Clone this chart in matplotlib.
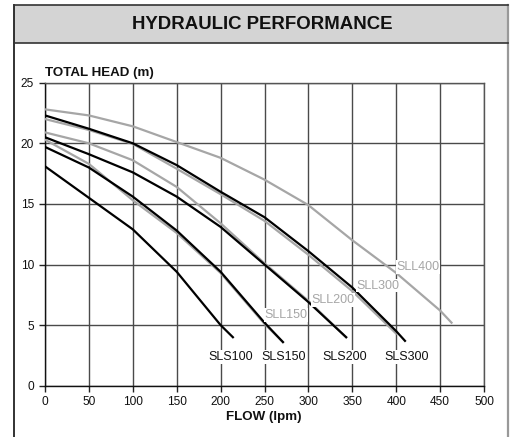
import matplotlib
matplotlib.use("Agg")
import matplotlib.pyplot as plt
from matplotlib.lines import Line2D
from matplotlib.patches import Rectangle

plt.rcParams['font.family'] = ['Liberation Sans', 'DejaVu Sans']

# ---- data (flow in lpm, total head in m) ----
flow_sls100 = [0, 50, 100, 150, 200, 214]
head_sls100 = [18.1, 15.5, 12.9, 9.4, 5.0, 4.0]

flow_sls150 = [0, 50, 100, 150, 200, 250, 271]
head_sls150 = [19.7, 18.0, 15.6, 12.8, 9.4, 5.2, 3.6]

flow_sll150 = [0, 50, 100, 150, 200, 250, 271]
head_sll150 = [20.3, 18.3, 15.3, 12.6, 9.3, 5.1, 3.6]

flow_sls200 = [0, 50, 100, 150, 200, 250, 300, 343]
head_sls200 = [20.5, 19.1, 17.6, 15.6, 13.1, 10.0, 6.9, 4.0]

flow_sll200 = [0, 50, 100, 150, 200, 250, 300, 343]
head_sll200 = [20.9, 20.0, 18.6, 16.4, 13.4, 10.1, 7.0, 4.0]

flow_sls300 = [0, 50, 100, 150, 200, 250, 300, 350, 400, 410]
head_sls300 = [22.3, 21.2, 20.0, 18.2, 16.0, 13.9, 11.1, 8.1, 4.5, 3.7]

flow_sll300 = [0, 50, 100, 150, 200, 250, 300, 350, 400]
head_sll300 = [22.0, 21.1, 19.95, 17.9, 15.8, 13.6, 10.8, 7.8, 4.3]

flow_sll400 = [0, 50, 100, 150, 200, 250, 300, 350, 400, 450, 463]
head_sll400 = [22.8, 22.3, 21.4, 20.1, 18.8, 17.0, 14.9, 12.0, 9.3, 6.2, 5.2]

x_ticks = [0, 50, 100, 150, 200, 250, 300, 350, 400, 450, 500]
y_ticks = [0, 5, 10, 15, 20, 25]

sls_labels = ["SLS100", "SLS150", "SLS200", "SLS300"]
sls_label_pos = [(211, 2.35), (271.5, 2.35), (341, 2.35), (412, 2.35)]
sll_labels = ["SLL150", "SLL200", "SLL300", "SLL400"]
sll_label_pos = [(274.5, 5.83), (328, 7.07), (379.5, 8.25), (425, 9.8)]

title = "HYDRAULIC PERFORMANCE"
y_title = "TOTAL HEAD (m)"
x_title = "FLOW (lpm)"

W, H = 511, 437
fig = plt.figure(figsize=(W / 100, H / 100), dpi=100)

def fx(px):
    return px / W

def fy(py):
    return 1 - py / H

# outer frame & header band
fig.patches.append(Rectangle((fx(14), fy(43)), fx(508) - fx(14), fy(5) - fy(43),
                             transform=fig.transFigure, facecolor='#d4d4d4',
                             edgecolor='none', zorder=0))
fig.lines.append(Line2D([fx(14), fx(14)], [fy(5), fy(437)], transform=fig.transFigure,
                        color='#222222', lw=1.3))
fig.lines.append(Line2D([fx(508), fx(508)], [fy(5), fy(437)], transform=fig.transFigure,
                        color='#999999', lw=1.6))
fig.lines.append(Line2D([fx(14), fx(508)], [fy(5), fy(5)], transform=fig.transFigure,
                        color='#333333', lw=1.2))
fig.lines.append(Line2D([fx(14), fx(508)], [fy(43), fy(43)], transform=fig.transFigure,
                        color='#333333', lw=1.2))
fig.text(fx(262), fy(24.5), title, ha='center', va='center', fontsize=13.4,
         fontweight='bold', color='#111111')

ax = fig.add_axes([fx(45), fy(385.7), fx(484) - fx(45), fy(82.7) - fy(385.7)])
ax.set_xlim(0, 500)
ax.set_ylim(0, 25)
ax.set_xticks(x_ticks)
ax.set_yticks(y_ticks)
ax.tick_params(axis='both', labelsize=8.6, length=4, width=1, color='#222222',
               labelcolor='#111111')
ax.tick_params(axis='y', pad=4)
ax.tick_params(axis='x', pad=3.5)
ax.grid(True, color='#4a4a4a', lw=1.0)
ax.set_axisbelow(True)
for side in ['top', 'right']:
    ax.spines[side].set_color('#555555')
    ax.spines[side].set_linewidth(1.0)
for side in ['left', 'bottom']:
    ax.spines[side].set_color('#111111')
    ax.spines[side].set_linewidth(1.0)

gray = '#a6a6a6'
black = '#000000'
lw = 1.6
ax.plot(flow_sll400, head_sll400, color=gray, lw=lw, zorder=3)
ax.plot(flow_sll300, head_sll300, color=gray, lw=lw, zorder=3)
ax.plot(flow_sll200, head_sll200, color=gray, lw=lw, zorder=3)
ax.plot(flow_sll150, head_sll150, color=gray, lw=lw, zorder=3)
ax.plot(flow_sls300, head_sls300, color=black, lw=lw, zorder=4)
ax.plot(flow_sls200, head_sls200, color=black, lw=lw, zorder=4)
ax.plot(flow_sls150, head_sls150, color=black, lw=lw, zorder=4)
ax.plot(flow_sls100, head_sls100, color=black, lw=lw, zorder=4)

for lab, (x, y) in zip(sls_labels, sls_label_pos):
    ax.text(x, y, lab, ha='center', va='center', fontsize=9, color='#111111', zorder=6,
            bbox=dict(facecolor='white', edgecolor='none', pad=0.5))
for lab, (x, y) in zip(sll_labels, sll_label_pos):
    ax.text(x, y, lab, ha='center', va='center', fontsize=9, color=gray, zorder=6,
            bbox=dict(facecolor='white', edgecolor='none', pad=0.5))

fig.text(fx(45), fy(73), y_title, ha='left', va='center', fontsize=9.6,
         fontweight='bold', color='#111111')
fig.text(fx(264), fy(417), x_title, ha='center', va='center', fontsize=9.6,
         fontweight='bold', color='#111111')

fig.savefig("out.png", dpi=100)
